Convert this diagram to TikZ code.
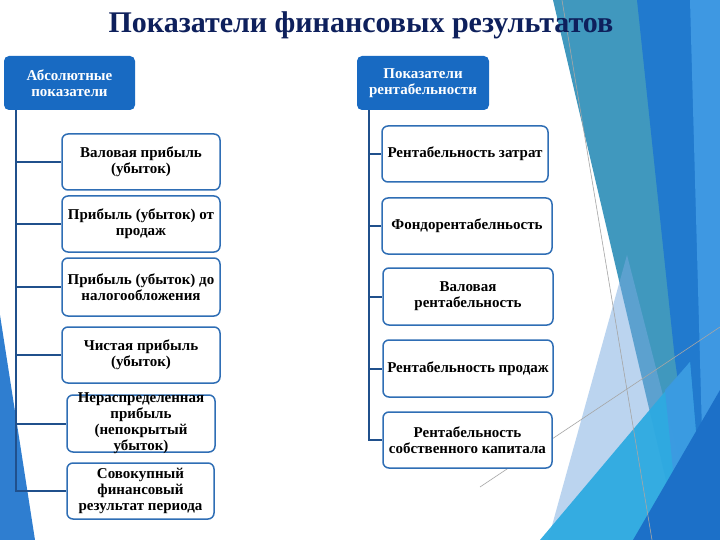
\documentclass[tikz,border=0pt]{standalone}
\usepackage{fontspec}
\setmainfont{Liberation Serif}
\definecolor{hdrblue}{RGB}{24,106,194}
\definecolor{boxblue}{RGB}{47,110,181}
\definecolor{connblue}{RGB}{32,80,140}
\definecolor{titlenavy}{RGB}{14,32,92}
\definecolor{tealc}{RGB}{64,152,190}
\definecolor{bluec}{RGB}{33,122,206}
\definecolor{bluelt}{RGB}{62,152,226}
\definecolor{paleblue}{RGB}{120,170,225}
\definecolor{cyanc}{RGB}{45,170,225}
\definecolor{bluedk}{RGB}{28,112,200}
\definecolor{leftblue}{RGB}{47,126,208}
\tikzset{
  hdr/.style={fill=hdrblue, rounded corners=5pt, text=white, align=center,
    font=\fontsize{15}{16}\selectfont\bfseries, inner sep=0pt},
  kid/.style={draw=boxblue, line width=1.5pt, rounded corners=6pt, fill=white, inner sep=0pt},
  kidtxt/.style={align=center, font=\fontsize{15}{16}\selectfont\bfseries, inner sep=0pt},
  conn/.style={draw=connblue, line width=2pt},
  thinline/.style={draw=gray!70, line width=0.6pt}
}
\begin{document}
\begin{tikzpicture}[x=1pt,y=-1pt]
\useasboundingbox (0,0) rectangle (720,540);
\fill[white] (0,0) rectangle (720,540);
% right decorations
\fill[tealc] (553,0) -- (720,0) -- (720,540) -- (680,540) -- cycle;
\fill[bluec] (637,0) -- (720,0) -- (720,540) -- (700,540) -- (675,360) -- cycle;
\fill[bluelt] (690,0) -- (720,0) -- (720,540) -- (705,540) -- cycle;
\fill[paleblue, opacity=0.5] (627,255) -- (548,540) -- (700,540) -- cycle;
\fill[cyanc, opacity=0.95] (540,540) -- (690,362) -- (705,540) -- cycle;
\fill[bluelt, opacity=0.8] (665,390) -- (690,362) -- (705,540) -- (680,540) -- cycle;
\fill[bluedk] (633,540) -- (720,390) -- (720,540) -- cycle;
\draw[thinline] (562,0) -- (652,540);
\draw[thinline] (480,487) -- (720,327);
% left decoration
\fill[leftblue] (0,315) -- (35,540) -- (0,540) -- cycle;
% title
\node[text=titlenavy, font=\fontsize{30}{32}\selectfont\bfseries, inner sep=0pt, anchor=base]
  (title) at (361,33) {Показатели финансовых результатов};
% headers
\node[hdr, minimum width=131pt, minimum height=54pt] (h1) at (69.5,83) {Абсолютные\\показатели};
\node[hdr, minimum width=132pt, minimum height=54pt] (h2) at (423,83) {Показатели\\рентабельности};
% left children
\node[kid, minimum width=158pt, minimum height=56pt] (l1) at (141,162) {};
\node[kid, minimum width=158pt, minimum height=56pt] (l2) at (141,224) {};
\node[kid, minimum width=158pt, minimum height=58pt] (l3) at (141,287) {};
\node[kid, minimum width=158pt, minimum height=56pt] (l4) at (141,355) {};
\node[kid, minimum width=148pt, minimum height=57pt] (l5) at (141,423.5) {};
\node[kid, minimum width=147pt, minimum height=56pt] (l6) at (140.5,491) {};
\node[kidtxt] (l1t) at (l1) {Валовая прибыль\\(убыток)};
\node[kidtxt] (l2t) at (l2) {Прибыль (убыток) от\\продаж};
\node[kidtxt] (l3t) at (l3) {Прибыль (убыток) до\\налогообложения};
\node[kidtxt] (l4t) at (l4) {Чистая прибыль\\(убыток)};
\node[kidtxt] (l5t) at (l5) {Нераспределенная\\прибыль\\(непокрытый\\убыток)};
\node[kidtxt] (l6t) at (l6) {Совокупный\\финансовый\\результат периода};
% right children
\node[kid, minimum width=166pt, minimum height=56pt] (r1) at (465,154) {};
\node[kid, minimum width=170pt, minimum height=56pt] (r2) at (467,226) {};
\node[kid, minimum width=170pt, minimum height=57pt] (r3) at (468,296.5) {};
\node[kid, minimum width=170pt, minimum height=57pt] (r4) at (468,368.5) {};
\node[kid, minimum width=169pt, minimum height=56pt] (r5) at (467.5,440) {};
\node[kidtxt] (r1t) at (r1) {Рентабельность затрат};
\node[kidtxt] (r2t) at (r2) {Фондорентабелньость};
\node[kidtxt] (r3t) at (r3) {Валовая\\рентабельность};
\node[kidtxt] (r4t) at (r4) {Рентабельность продаж};
\node[kidtxt] (r5t) at (r5) {Рентабельность\\собственного капитала};
% connectors
\coordinate (lv) at ([xshift=12pt]h1.south west);
\coordinate (rv) at ([xshift=12pt]h2.south west);
\foreach \k in {l1,l2,l3,l4,l5,l6} { \draw[conn] (lv) |- (\k.west); }
\foreach \k in {r1,r2,r3,r4,r5} { \draw[conn] (rv) |- (\k.west); }
\end{tikzpicture}
\end{document}
